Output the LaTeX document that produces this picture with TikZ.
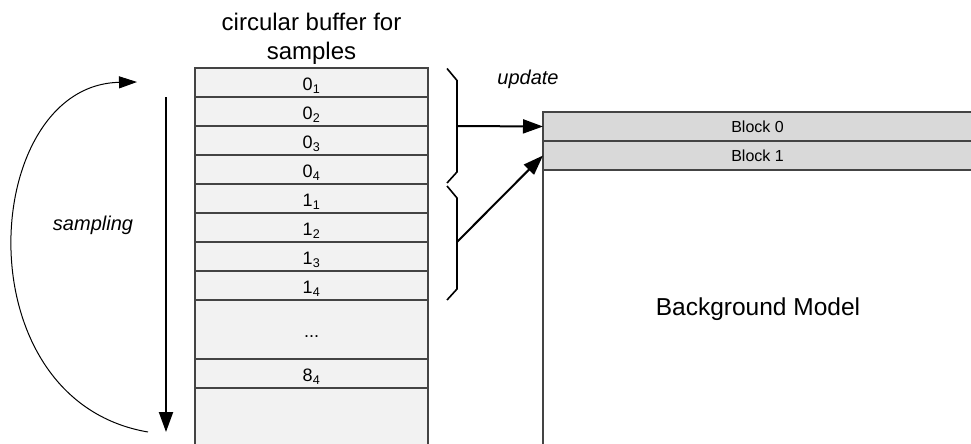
\documentclass[tikz,border=0pt]{standalone}
\usepackage{fontspec}
\setmainfont{Liberation Sans}
\usetikzlibrary{calc}
\usetikzlibrary{positioning}
\usetikzlibrary{arrows.meta}
\definecolor{cellgray}{HTML}{F2F2F2}
\definecolor{blockgray}{HTML}{D9D9D9}
\definecolor{rim}{HTML}{444444}

\begin{document}
\begin{tikzpicture}[x=1pt, y=-1pt, node distance=0pt,
	      box/.style={draw=rim, line width=1.2pt, inner sep=0pt, outer sep=0pt},
	      slot/.style={box, fill=cellgray, minimum width=233pt, minimum height=29pt,
	          text height=16pt, text depth=0pt, font=\fontsize{18}{20}\selectfont},
	      block/.style={box, fill=blockgray, minimum width=429pt, minimum height=29pt,
	          font=\fontsize{16}{18}\selectfont},
	      curly/.style={line width=1.6pt, to path={-- ++(10,12) -- ($(\tikztotarget)+(10,-11)$) -- (\tikztotarget)}},
	      push/.style={line width=2pt, -{Triangle[length=20pt,width=14pt]}},
	      tag/.style={font=\itshape\fontsize{20}{24}\selectfont}]
\clip (0,0) rectangle (971,444);

% circular buffer
\node[slot] (s01) at (311.5,82.5) {0\textsubscript{1}};
\node[slot, below=of s01] (s02) {0\textsubscript{2}};
\node[slot, below=of s02] (s03) {0\textsubscript{3}};
\node[slot, below=of s03] (s04) {0\textsubscript{4}};
\node[slot, below=of s04] (s11) {1\textsubscript{1}};
\node[slot, below=of s11] (s12) {1\textsubscript{2}};
\node[slot, below=of s12] (s13) {1\textsubscript{3}};
\node[slot, below=of s13] (s14) {1\textsubscript{4}};
\node[slot, below=of s14, minimum height=59pt] (dots) {...};
\node[slot, below=of dots] (s84) {8\textsubscript{4}};
\node[slot, below=of s84, minimum height=60pt] (rest) {};
\node[align=center, inner sep=0pt, font=\fontsize{24}{29.5}\selectfont, above=3pt of s01] (title)
	{circular buffer for\\samples};

% background model
\node[box, fill=white, minimum width=429pt, minimum height=336pt, anchor=north west] (model) at (543,112) {};
\node[block, anchor=north west] (blk0) at (543,112) {Block 0};
\node[block, below=of blk0] (blk1) {Block 1};
\node[font=\fontsize{24.5}{28}\selectfont] (bgm) at (758,309) {Background Model};

% braces
\coordinate (b0top) at ([xshift=19pt,yshift=-0.5pt]s01.north east);
\coordinate (b0bot) at ([xshift=19pt,yshift=1pt]s04.south east);
\coordinate (b1top) at ([xshift=19pt,yshift=-2pt]s11.north east);
\coordinate (b1bot) at ([xshift=19pt]s14.south east);
\coordinate (b0tip) at ([xshift=29pt]s02.south east);
\coordinate (b1tip) at ([xshift=29pt]s12.south east);
\draw[curly] (b0top) to (b0bot);
\draw[curly] (b1top) to (b1bot);
\draw[push] (b0tip) -- (blk0.west);
\draw[push] (b1tip) -- (blk1.west);
\node[tag] (updlabel) at (528,79) {update};

% sampling
\coordinate (smptop) at ([xshift=-29pt]s01.south west);
\coordinate (smpbot) at (166,432);
\draw[push] (smptop) -- (smpbot);
\coordinate (loopstart) at (148,432);
\coordinate (loopend) at (137,82);
\draw[line width=1pt, -{Triangle[length=18pt,width=12pt]}] (loopstart) .. controls (-40,400) and (-20,85) .. (loopend);
\node[tag] (smplabel) at (93,225) {sampling};
\end{tikzpicture}
\end{document}
